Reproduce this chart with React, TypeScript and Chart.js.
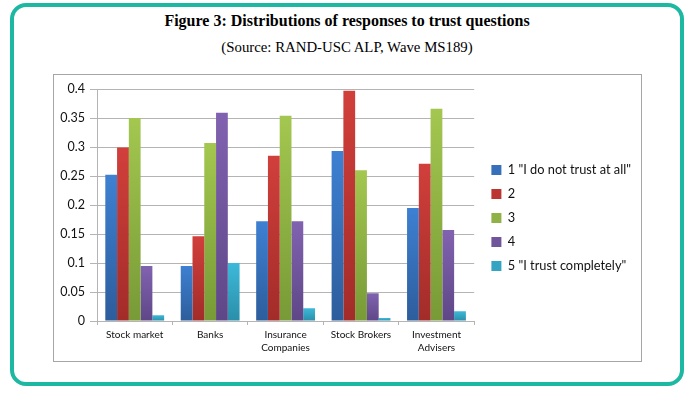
import React, { useEffect, useRef } from "react";
import { Chart, registerables } from "chart.js";

Chart.register(...registerables);

const categories: (string | string[])[] = [
  "Stock market",
  "Banks",
  ["Insurance", "Companies"],
  "Stock Brokers",
  ["Investment", "Advisers"],
];

const seriesNames = [
  '1 "I do not trust at all"',
  "2",
  "3",
  "4",
  '5 "I trust completely"',
];

const trust1 = [0.252, 0.095, 0.172, 0.293, 0.195];
const trust2 = [0.299, 0.146, 0.285, 0.397, 0.271];
const trust3 = [0.35, 0.307, 0.354, 0.26, 0.366];
const trust4 = [0.095, 0.359, 0.172, 0.048, 0.157];
const trust5 = [0.01, 0.1, 0.022, 0.005, 0.017];

const yTicks = [0, 0.05, 0.1, 0.15, 0.2, 0.25, 0.3, 0.35, 0.4];

const seriesValues = [trust1, trust2, trust3, trust4, trust5];
const topColors = ["#3e80d2", "#d13f3b", "#a3c74f", "#8162b0", "#3db9d9"];
const bottomColors = ["#2d5d9c", "#a22c29", "#789a37", "#5e4787", "#2a8ea9"];
const legendColors = ["#3670bb", "#bb3532", "#8fb145", "#70559b", "#33a4c1"];

const FONT = "Lato, 'Open Sans', sans-serif";

const legendShift = {
  id: "legendShift",
  afterLayout(chart: any) {
    const l = chart.legend;
    if (l) {
      l.top -= 7;
      l.bottom -= 7;
    }
  },
};

export default function App() {
  const canvasRef = useRef<HTMLCanvasElement | null>(null);

  useEffect(() => {
    const canvas = canvasRef.current;
    if (!canvas) return;

    const chart = new Chart(canvas, {
      type: "bar",
      data: {
        labels: categories,
        datasets: seriesValues.map((vals, i) => ({
          label: seriesNames[i],
          data: vals,
          borderWidth: 0,
          categoryPercentage: 0.78,
          barPercentage: 1,
          backgroundColor: (ctx: any) => {
            const ch = ctx.chart;
            const ys = ch.scales?.y;
            if (!ch.chartArea || !ys || ctx.type !== "data") return legendColors[i];
            const v = ctx.raw as number;
            const top = ys.getPixelForValue(v);
            const bottom = ys.getPixelForValue(0);
            if (!isFinite(top) || !isFinite(bottom) || bottom - top < 0.5) return topColors[i];
            const g = ch.ctx.createLinearGradient(0, top, 0, bottom);
            g.addColorStop(0, topColors[i]);
            g.addColorStop(1, bottomColors[i]);
            return g;
          },
        })),
      },
      plugins: [legendShift],
      options: {
        animation: false,
        responsive: false,
        maintainAspectRatio: false,
        layout: { padding: { top: 14, left: 0, right: 0, bottom: 0 } },
        plugins: {
          title: { display: false },
          tooltip: { enabled: false },
          legend: {
            position: "right",
            align: "center",
            maxWidth: 260,
            labels: {
              boxWidth: 10,
              boxHeight: 10,
              padding: 11.2,
              color: "#111",
              font: { family: FONT, size: 12.8 },
              generateLabels: (c: any) =>
                c.data.datasets.map((d: any, i: number) => ({
                  text: d.label,
                  fillStyle: legendColors[i],
                  strokeStyle: legendColors[i],
                  lineWidth: 0,
                  hidden: false,
                  datasetIndex: i,
                  fontColor: "#111",
                })),
            },
          },
        },
        scales: {
          x: {
            grid: {
              display: true,
              drawOnChartArea: false,
              drawTicks: true,
              tickLength: 4,
              color: "#b4b4b4",
              offset: true,
            },
            border: { display: true, color: "#b4b4b4", width: 1 },
            ticks: {
              color: "#111",
              font: { family: FONT, size: 10, lineHeight: 1.3 },
              padding: 3,
              maxRotation: 0,
              autoSkip: false,
            },
            afterFit: (s: any) => {
              s.height = 40;
            },
          },
          y: {
            min: 0,
            max: 0.4,
            afterBuildTicks: (s: any) => {
              s.ticks = yTicks.map((v) => ({ value: v }));
            },
            ticks: {
              color: "#111",
              font: { family: FONT, size: 12.5 },
              padding: 5,
              callback: (v: any) => String(Number(v)),
            },
            grid: {
              color: "#b4b4b4",
              lineWidth: 1,
              tickLength: 7,
              drawTicks: true,
            },
            border: { display: true, color: "#b4b4b4", width: 1 },
            afterFit: (s: any) => {
              s.width = 43;
            },
          },
          gap: {
            type: "linear",
            position: "right",
            display: true,
            grid: { display: false, drawTicks: false },
            border: { display: false },
            ticks: { display: false },
            afterFit: (s: any) => {
              s.width = 6;
            },
          },
        },
      } as any,
    });

    return () => {
      chart.destroy();
    };
  }, []);

  return (
    <div
      style={{
        position: "absolute",
        left: 0,
        top: 0,
        width: 694,
        height: 393,
        background: "#fff",
        overflow: "hidden",
      }}
    >
      <div
        style={{
          position: "absolute",
          left: 10,
          top: 3,
          width: 666,
          height: 375,
          border: "4px solid #1db8a2",
          borderRadius: 16,
        }}
      />
      <div
        style={{
          position: "absolute",
          left: 0,
          width: 694,
          top: 11,
          textAlign: "center",
          fontFamily: "'Liberation Serif', 'Times New Roman', serif",
          fontWeight: "bold",
          fontSize: 16,
          lineHeight: "20px",
          color: "#000",
        }}
      >
        Figure 3: Distributions of responses to trust questions
      </div>
      <div
        style={{
          position: "absolute",
          left: 0,
          width: 694,
          top: 38,
          textAlign: "center",
          fontFamily: "'Liberation Serif', 'Times New Roman', serif",
          fontSize: 14.8,
          lineHeight: "18px",
          color: "#000",
        }}
      >
        (Source: RAND-USC ALP, Wave MS189)
      </div>
      <div
        style={{
          position: "absolute",
          left: 53,
          top: 74,
          width: 587,
          height: 286,
          border: "1px solid #a6a6a6",
        }}
      >
        <canvas
          ref={canvasRef}
          width={587}
          height={286}
          style={{ display: "block", width: 587, height: 286 }}
        />
      </div>
    </div>
  );
}
